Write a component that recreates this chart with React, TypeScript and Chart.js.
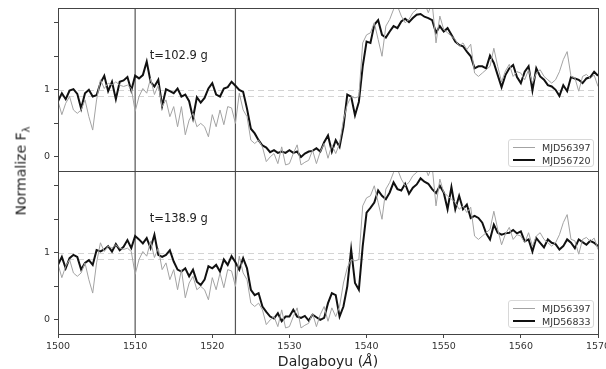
import React, { useEffect, useRef } from "react";
import { Chart, registerables } from "chart.js";

Chart.register(...registerables);

// Wavelength grid (Å), 0.5 Å sampling from 1500 to 1570
const WAVELENGTHS: number[] = Array.from({ length: 141 }, (_, i) => 1500 + i * 0.5);

// Normalized flux, reference epoch (shown in both panels)
const MJD56397 = [
  0.83, 0.63, 0.8, 0.9, 0.7, 0.65, 0.7, 0.85, 0.6, 0.4,
  0.85, 1.15, 1.02, 1.1, 1.07, 1.12, 1.07, 1.05, 1.07, 1.02,
  0.68, 0.9, 1.02, 0.95, 1.17, 0.93, 1.07, 0.75, 0.85, 0.6,
  0.75, 0.45, 0.75, 0.33, 0.55, 0.65, 0.45, 0.5, 0.45, 0.3,
  0.63, 0.45, 0.7, 0.48, 0.75, 0.73, 0.5, 0.95, 0.7, 0.6,
  0.25, 0.2, 0.25, 0.15, -0.07, 0.0, 0.05, -0.1, 0.15, -0.12,
  -0.1, 0.05, 0.18, -0.12, -0.08, -0.05, 0.1, -0.1, 0.08, 0.2,
  -0.02, 0.18, 0.05, 0.2, 0.55, 0.78, 0.9, 0.88, 0.9, 1.7,
  1.82, 1.85, 2.0, 1.75, 1.5, 1.95, 2.05, 2.2, 2.25, 2.1,
  2.0, 2.05, 2.15, 2.2, 2.25, 2.3, 2.15, 2.3, 1.7, 2.1,
  1.9, 1.85, 1.8, 1.75, 1.65, 1.7, 1.6, 1.68, 1.25, 1.2,
  1.25, 1.3, 1.35, 1.62, 1.35, 1.12, 1.28, 1.38, 1.2, 1.27,
  1.25, 1.15, 1.3, 1.1, 1.25, 1.3, 1.2, 1.15, 1.1, 1.15,
  1.27, 1.45, 1.57, 1.2, 1.18, 0.98, 1.2, 1.23, 1.17, 1.22,
  1.05,
];

// Top panel comparison epoch
const MJD56720 = [
  0.83, 0.95, 0.86, 0.99, 1.01, 0.94, 0.72, 0.95, 1.0, 0.9,
  0.92, 1.1, 1.21, 0.98, 1.12, 0.86, 1.12, 1.14, 1.19, 0.99,
  1.21, 1.17, 1.22, 1.42, 1.12, 1.05, 1.15, 0.76, 1.01, 0.98,
  0.95, 1.02, 0.9, 0.93, 0.83, 0.58, 0.89, 0.81, 0.88, 1.02,
  1.1, 0.93, 0.9, 1.02, 1.04, 1.12, 1.06, 1.0, 0.97, 0.72,
  0.42, 0.35, 0.25, 0.17, 0.14, 0.07, 0.1, 0.06, 0.08, 0.06,
  0.1, 0.06, 0.08, 0.0, 0.05, 0.08, 0.09, 0.13, 0.08, 0.22,
  0.32, 0.08, 0.25, 0.15, 0.45, 0.93, 0.9, 0.62, 0.82, 1.35,
  1.72, 1.7, 1.97, 2.04, 1.82, 1.78, 1.87, 1.95, 1.92, 2.02,
  2.06, 2.01, 2.07, 2.12, 2.13, 2.09, 2.07, 2.04, 1.85, 1.95,
  1.87, 1.92, 1.82, 1.72, 1.67, 1.65, 1.57, 1.5, 1.32, 1.35,
  1.35, 1.32, 1.51, 1.4, 1.22, 1.04, 1.22, 1.32, 1.37, 1.19,
  1.1, 1.27, 1.35, 0.99, 1.32, 1.2, 1.15, 1.07, 1.05, 1.0,
  0.91, 1.07, 0.98, 1.19, 1.17, 1.15, 1.1, 1.17, 1.19, 1.27,
  1.21,
];

// Bottom panel comparison epoch
const MJD56833 = [
  0.82, 0.94, 0.77, 0.92, 0.97, 0.94, 0.75, 0.85, 0.89, 0.82,
  1.04, 1.02, 1.05, 1.1, 1.02, 1.13, 1.04, 1.09, 1.19, 1.07,
  1.25, 1.2, 1.14, 1.22, 1.07, 1.27, 0.97, 0.94, 0.97, 1.04,
  0.87, 0.75, 0.72, 0.77, 0.65, 0.75, 0.57, 0.52, 0.6, 0.8,
  0.77, 0.82, 0.72, 0.9, 0.82, 0.95, 0.86, 0.75, 0.92, 0.77,
  0.45, 0.37, 0.4, 0.2, 0.12, 0.05, 0.02, 0.1, -0.02, 0.05,
  0.05, 0.15, 0.05, 0.03, 0.06, -0.01, 0.08, 0.04, 0.0, 0.03,
  0.25, 0.4, 0.37, 0.05, 0.2, 0.5, 1.05, 0.55, 0.45, 1.1,
  1.6, 1.67, 1.75, 1.93, 1.85, 1.8, 1.9, 2.05, 1.95, 1.93,
  2.03, 1.88, 1.97, 2.02, 2.11, 2.06, 2.03, 1.95, 1.89, 2.0,
  1.9, 1.65, 1.98, 1.65, 1.85, 1.65, 1.72, 1.52, 1.55, 1.52,
  1.45, 1.29, 1.2, 1.42, 1.3, 1.27, 1.29, 1.3, 1.34, 1.29,
  1.32, 1.17, 1.2, 1.02, 1.22, 1.15, 1.08, 1.2, 1.15, 1.13,
  1.05, 1.1, 1.2, 1.15, 1.07, 1.2, 1.16, 1.12, 1.18, 1.15,
  1.1,
];

const X_TICKS = [1500, 1510, 1520, 1530, 1540, 1550, 1560, 1570];
const Y_TICKS = [0, 0.5, 1, 1.5, 2];
const Y_LABELED = [0, 1];
const VLINES = [1510, 1523];
const HLINES = [1.0, 0.91];
const PANEL_LABELS = ["t=102.9 g", "t=138.9 g"];
const LABEL_POS = { x: 1511.9, y: 1.5 };
const LEGENDS = [
  ["MJD56397", "MJD56720"],
  ["MJD56397", "MJD56833"],
];

const FONT = "'DejaVu Sans', sans-serif";
const GRAY = "#a3a3a3";
const BLACK = "#111111";

const pts = (arr: number[]) => WAVELENGTHS.map((x, i) => ({ x, y: arr[i] }));

const panelClip = {
  id: "panelClip",
  beforeDatasetDraw(chart: any, args: any) {
    const sc = chart.scales[args.meta.yAxisID];
    const ca = chart.chartArea;
    const ctx = chart.ctx;
    ctx.save();
    ctx.beginPath();
    ctx.rect(ca.left, sc.top, ca.right - ca.left, sc.bottom - sc.top);
    ctx.clip();
  },
  afterDatasetDraw(chart: any) {
    chart.ctx.restore();
  },
};

const decorations = {
  id: "decorations",
  beforeDatasetsDraw(chart: any) {
    const ctx = chart.ctx;
    const ca = chart.chartArea;
    const xs = chart.scales.x;
    ctx.save();
    ["yTop", "yBot"].forEach((id) => {
      const sc = chart.scales[id];
      ctx.strokeStyle = "#d4d4d4";
      ctx.lineWidth = 1;
      ctx.setLineDash([6, 4]);
      HLINES.forEach((v) => {
        const y = Math.round(sc.getPixelForValue(v)) + 0.5;
        ctx.beginPath();
        ctx.moveTo(ca.left, y);
        ctx.lineTo(ca.right, y);
        ctx.stroke();
      });
    });
    ctx.setLineDash([]);
    ctx.strokeStyle = "#555";
    ctx.lineWidth = 1.2;
    VLINES.forEach((v) => {
      const x = xs.getPixelForValue(v);
      ctx.beginPath();
      ctx.moveTo(x, ca.top);
      ctx.lineTo(x, ca.bottom);
      ctx.stroke();
    });
    ctx.restore();
  },
  afterDatasetsDraw(chart: any) {
    const ctx = chart.ctx;
    const ca = chart.chartArea;
    const xs = chart.scales.x;
    ctx.save();
    ctx.strokeStyle = "#444";
    ctx.lineWidth = 1;
    ["yTop", "yBot"].forEach((id, i) => {
      const sc = chart.scales[id];
      ctx.strokeRect(
        Math.round(ca.left) + 0.5,
        Math.round(sc.top) + 0.5,
        Math.round(ca.right - ca.left),
        Math.round(sc.bottom - sc.top)
      );
      ctx.fillStyle = "#222";
      ctx.font = `11.5px ${FONT}`;
      ctx.textBaseline = "middle";
      ctx.textAlign = "left";
      ctx.fillText(PANEL_LABELS[i], xs.getPixelForValue(LABEL_POS.x), sc.getPixelForValue(LABEL_POS.y));
    });
    ctx.restore();
  },
};

const yScale = () => ({
  type: "linear",
  stack: "panels",
  stackWeight: 1,
  min: -0.21,
  max: 2.22,
  afterBuildTicks: (s: any) => {
    s.ticks = Y_TICKS.map((v) => ({ value: v }));
  },
  afterFit: (s: any) => {
    s.width = 58;
    s.paddingTop = 0;
    s.paddingBottom = 0;
  },
  ticks: {
    callback: (v: any) => (Y_LABELED.includes(Number(v)) ? String(v) : ""),
    font: { family: FONT, size: 9.5 },
    color: "#333",
    padding: 4,
  },
  grid: { drawOnChartArea: false, tickLength: 4, color: "#444" },
  border: { display: false },
});

function Legend({ names, top }: { names: string[]; top: number }) {
  return (
    <div
      style={{
        position: "absolute",
        left: 508,
        top,
        width: 86,
        height: 28,
        border: "1px solid #d8d8d8",
        borderRadius: 3,
        background: "rgba(255,255,255,0.85)",
        boxSizing: "border-box",
        fontFamily: FONT,
        fontSize: 9.5,
        color: "#333",
      }}
    >
      {names.map((n, i) => (
        <div key={i} style={{ position: "absolute", left: 4, top: 1 + i * 13, height: 12, display: "flex", alignItems: "center" }}>
          <span
            style={{
              display: "inline-block",
              width: 22,
              height: 0,
              borderTop: i === 0 ? `1px solid ${GRAY}` : `2px solid ${BLACK}`,
              marginRight: 7,
            }}
          />
          <span>{n}</span>
        </div>
      ))}
    </div>
  );
}

export default function App() {
  const ref = useRef<HTMLCanvasElement | null>(null);

  useEffect(() => {
    if (!ref.current) return;
    const chart = new Chart(ref.current, {
      type: "line",
      data: {
        datasets: [
          { label: LEGENDS[0][0], data: pts(MJD56397), yAxisID: "yTop", borderColor: GRAY, borderWidth: 1, pointRadius: 0 },
          { label: LEGENDS[0][1], data: pts(MJD56720), yAxisID: "yTop", borderColor: BLACK, borderWidth: 2, pointRadius: 0 },
          { label: LEGENDS[1][0], data: pts(MJD56397), yAxisID: "yBot", borderColor: GRAY, borderWidth: 1, pointRadius: 0 },
          { label: LEGENDS[1][1], data: pts(MJD56833), yAxisID: "yBot", borderColor: BLACK, borderWidth: 2, pointRadius: 0 },
        ],
      } as any,
      options: {
        animation: false,
        responsive: false,
        devicePixelRatio: 1,
        layout: { padding: { left: 0, top: 8, right: 8, bottom: 0 } },
        plugins: { legend: { display: false }, tooltip: { enabled: false } },
        elements: { line: { tension: 0 } },
        scales: {
          x: {
            type: "linear",
            min: 1500,
            max: 1570,
            afterBuildTicks: (s: any) => {
              s.ticks = X_TICKS.map((v) => ({ value: v }));
            },
            afterFit: (s: any) => {
              s.height = 35;
              s.paddingLeft = 0;
              s.paddingRight = 0;
            },
            ticks: {
              font: { family: FONT, size: 9.5 },
              color: "#333",
              padding: 3,
              maxRotation: 0,
              callback: (v: any) => String(v),
            },
            grid: { drawOnChartArea: false, tickLength: 4, color: "#444" },
            border: { display: false },
          },
          // stacked axes are placed bottom-up in definition order
          yBot: yScale(),
          yTop: yScale(),
        } as any,
      },
      plugins: [panelClip, decorations],
    });
    return () => chart.destroy();
  }, []);

  return (
    <div style={{ position: "fixed", left: 0, top: 0, width: 606, height: 369, background: "#fff", overflow: "hidden" }}>
      <canvas ref={ref} width={606} height={369} style={{ display: "block" }} />
      <Legend names={LEGENDS[0]} top={139} />
      <Legend names={LEGENDS[1]} top={300} />
      <div
        style={{
          position: "absolute",
          left: 22,
          top: 171,
          transform: "translate(-50%, -50%) rotate(-90deg)",
          whiteSpace: "nowrap",
          fontFamily: FONT,
          fontSize: 14,
          color: "#222",
        }}
      >
        Normalize F<sub style={{ fontSize: 10 }}>λ</sub>
      </div>
      <div
        style={{
          position: "absolute",
          left: 328,
          top: 361,
          transform: "translate(-50%, -50%)",
          whiteSpace: "nowrap",
          fontFamily: FONT,
          fontSize: 14,
          color: "#222",
        }}
      >
        Dalgaboyu (<i>Å</i>)
      </div>
    </div>
  );
}
